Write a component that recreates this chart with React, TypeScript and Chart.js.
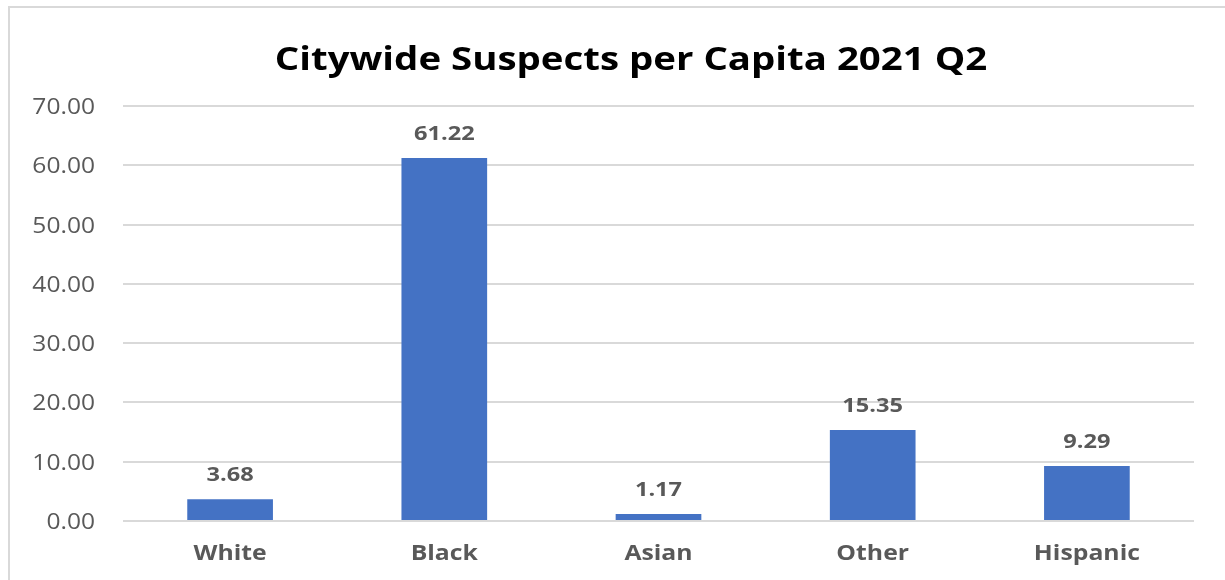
import React, { useEffect, useRef } from "react";
import { Chart, registerables } from "chart.js";

Chart.register(...registerables);

const categories = ["White", "Black", "Asian", "Other", "Hispanic"];
const values = [3.68, 61.22, 1.17, 15.35, 9.29];
const yTicks = [0, 10, 20, 30, 40, 50, 60, 70];
const titleText = "Citywide Suspects per Capita 2021 Q2";
const FONT = "'Open Sans', 'DejaVu Sans', sans-serif";
const STRETCH = 1.18;

function drawText(ctx: any, text: string, x: number, y: number, font: string, color: string, align: string, sx = STRETCH) {
  ctx.save();
  ctx.translate(x, y);
  ctx.scale(sx, 1);
  ctx.font = font;
  ctx.fillStyle = color;
  ctx.textAlign = align;
  ctx.textBaseline = "alphabetic";
  ctx.fillText(text, 0, 0);
  ctx.restore();
}

const overlay = {
  id: "overlay",
  afterDatasetsDraw(chart: any) {
    const ctx = chart.ctx;
    const xs = chart.scales.x;
    const ys = chart.scales.y;
    drawText(ctx, titleText, 631, 70, `bold 32px ${FONT}`, "#000000", "center", 1.2);
    yTicks.forEach((v) => {
      drawText(ctx, v.toFixed(2), 95, ys.getPixelForValue(v) + 8, `21px ${FONT}`, "#595959", "right", 1.17);
    });
    categories.forEach((c, i) => {
      drawText(ctx, c, xs.getPixelForValue(i), 560, `bold 21px ${FONT}`, "#595959", "center");
    });
    const meta = chart.getDatasetMeta(0);
    meta.data.forEach((bar: any, i: number) => {
      drawText(ctx, values[i].toFixed(2), bar.x, bar.y - 18, `bold 20px ${FONT}`, "#595959", "center");
    });
  },
};

export default function App() {
  const ref = useRef<HTMLCanvasElement>(null);
  useEffect(() => {
    if (!ref.current) return;
    const chart = new Chart(ref.current, {
      type: "bar",
      data: {
        labels: categories,
        datasets: [
          {
            data: values,
            backgroundColor: "#4472C4",
            categoryPercentage: 1,
            barPercentage: 0.4,
          },
        ],
      },
      options: {
        animation: false,
        responsive: false,
        maintainAspectRatio: false,
        layout: { padding: { top: 106, right: 31, left: 0, bottom: 0 } },
        plugins: { legend: { display: false }, tooltip: { enabled: false }, title: { display: false } },
        scales: {
          x: {
            grid: { display: false, drawTicks: false },
            border: { display: false },
            ticks: { display: false },
            afterFit: (s: any) => { s.height = 59; },
          },
          y: {
            min: 0,
            max: 70,
            grid: { color: "#d9d9d9", lineWidth: 2, drawTicks: false },
            border: { display: false },
            ticks: { stepSize: 10, display: false },
            afterFit: (s: any) => { s.width = 123; },
          },
        },
      },
      plugins: [overlay],
    });
    return () => chart.destroy();
  }, []);
  return (
    <div style={{ position: "absolute", left: 0, top: 0, width: 1225, height: 580, background: "#fff", overflow: "hidden" }}>
      <div style={{ position: "absolute", left: 8, top: 6, width: 1300, height: 700, border: "2px solid #d9d9d9" }} />
      <canvas ref={ref} width={1225} height={580} style={{ position: "absolute", left: 0, top: 0 }} />
    </div>
  );
}
